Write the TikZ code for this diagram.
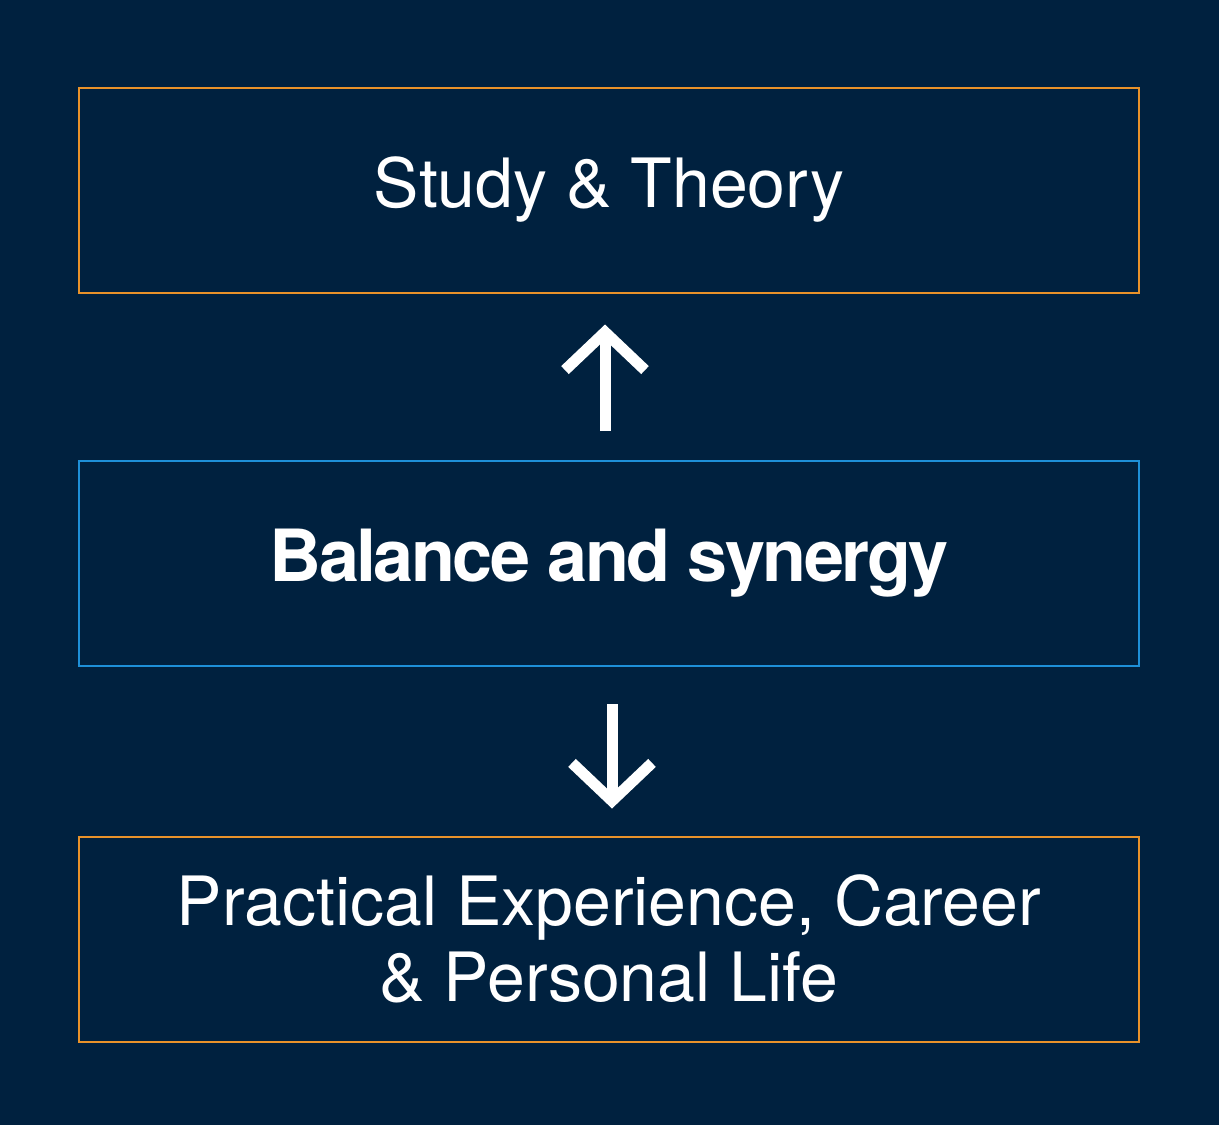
\documentclass[tikz,border=0pt]{standalone}
\usepackage{fontspec}
\setmainfont{TeX Gyre Heros}
\usetikzlibrary{arrows.meta}
\definecolor{navy}{HTML}{00213F}
\definecolor{boxorange}{HTML}{E8922A}
\definecolor{boxblue}{HTML}{1E90D8}
\tikzset{
  box/.style={draw=boxorange, line width=2bp, minimum width=1060bp, minimum height=205bp,
    inner sep=0pt, text=white, align=center, font=\fontsize{68bp}{76bp}\selectfont},
  midbox/.style={box, draw=boxblue, font=\fontsize{72bp}{80bp}\selectfont\bfseries\addfontfeatures{LetterSpace=-3.6}},
  flow/.style={white, line width=11bp, -{Straight Barb[length=38bp,width=80bp]}}
}
\begin{document}
\begin{tikzpicture}[x=1bp,y=-1bp]
  \fill[navy] (0,0) rectangle (1219,1125);
  \node[box] (study) at (609,190) {Study \& Theory};
  \node[midbox] (balance) at (609,563.5) {Balance and synergy};
  \node[box] (practice) at (609,939) {Practical Experience, Career\\\& Personal Life};
  \draw[flow, shorten <=29bp, shorten >=31bp] ([xshift=-4bp]balance.north) -- ([xshift=-4bp]study.south);
  \draw[flow, shorten <=37bp, shorten >=27bp] ([xshift=3bp]balance.south) -- ([xshift=3bp]practice.north);
\end{tikzpicture}
\end{document}
